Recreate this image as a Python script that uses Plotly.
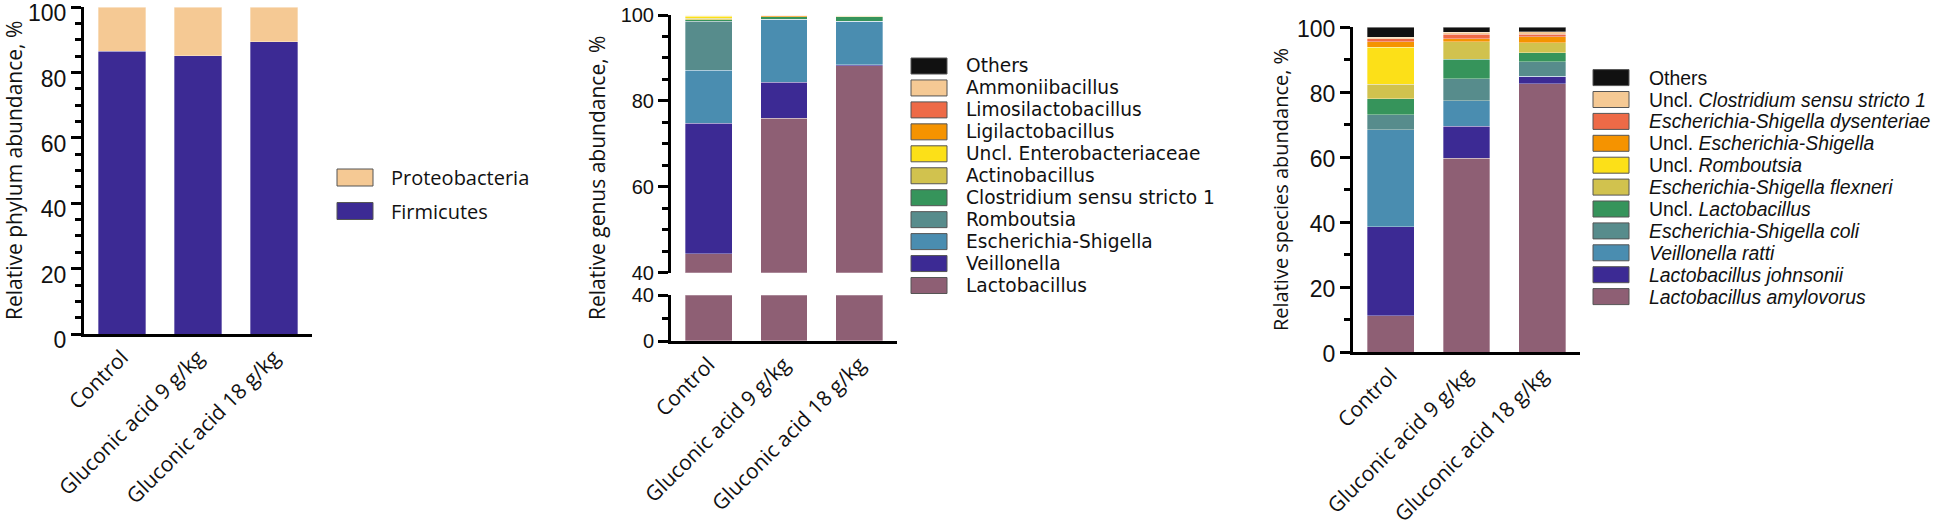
import plotly.graph_objects as go

# ---------------- data ----------------
groups = ["Control", "Gluconic acid 9 g/kg", "Gluconic acid 18 g/kg"]

# Phylum (stack order bottom -> top)
phylum_names = ["Firmicutes", "Proteobacteria"]
firmicutes = [86.6, 85.1, 89.5]
proteobacteria = [13.4, 14.9, 10.5]

# Genus (stack order bottom -> top)
genus_names = ["Lactobacillus", "Veillonella", "Escherichia-Shigella", "Romboutsia",
               "Clostridium sensu stricto 1", "Actinobacillus", "Uncl. Enterobacteriaceae",
               "Ligilactobacillus", "Limosilactobacillus", "Ammoniibacillus", "Others"]
g_lactobacillus = [44.4, 76.0, 88.2]
g_veillonella = [30.4, 8.3, 0.2]
g_escherichia_shigella = [12.3, 14.7, 10.1]
g_romboutsia = [11.5, 0.0, 0.0]
g_clostridium = [0.3, 0.6, 1.1]
g_actinobacillus = [0.3, 0.0, 0.1]
g_uncl_enterobacteriaceae = [0.5, 0.0, 0.2]
g_ligilactobacillus = [0.2, 0.2, 0.0]
g_limosilactobacillus = [0.05, 0.1, 0.0]
g_ammoniibacillus = [0.05, 0.1, 0.1]
g_others = [0.0, 0.0, 0.0]

# Species (stack order bottom -> top)
species_names = ["<i>Lactobacillus amylovorus</i>", "<i>Lactobacillus johnsonii</i>",
                 "<i>Veillonella ratti</i>", "<i>Escherichia-Shigella coli</i>",
                 "Uncl. <i>Lactobacillus</i>", "<i>Escherichia-Shigella flexneri</i>",
                 "Uncl. <i>Romboutsia</i>", "Uncl. <i>Escherichia-Shigella</i>",
                 "<i>Escherichia-Shigella dysenteriae</i>", "Uncl. <i>Clostridium sensu stricto 1</i>",
                 "Others"]
s_amylovorus = [11.1, 59.6, 82.6]
s_johnsonii = [27.5, 9.9, 2.2]
s_ratti = [29.9, 7.9, 0.2]
s_coli = [4.6, 6.8, 4.4]
s_uncl_lactobacillus = [4.9, 5.9, 2.8]
s_flexneri = [4.4, 5.5, 3.1]
s_uncl_romboutsia = [11.4, 0.0, 0.0]
s_uncl_escherichia = [1.7, 0.8, 1.8]
s_dysenteriae = [0.9, 1.4, 0.7]
s_uncl_clostridium = [0.5, 0.7, 0.8]
s_others = [3.1, 1.5, 1.4]

# ---------------- styles ----------------
C_MAUVE = "#8E5F74"
C_PURPLE = "#3C2A94"
C_BLUE = "#4A8DB0"
C_TEAL = "#578C8C"
C_GREEN = "#36945B"
C_OLIVE = "#D1C24E"
C_YELLOW = "#FCE018"
C_ORANGE = "#F59300"
C_RED = "#EE6A47"
C_PEACH = "#F5C994"
C_BLACK = "#111111"

phylum_vals = [firmicutes, proteobacteria]
phylum_cols = [C_PURPLE, C_PEACH]
genus_vals = [g_lactobacillus, g_veillonella, g_escherichia_shigella, g_romboutsia, g_clostridium,
              g_actinobacillus, g_uncl_enterobacteriaceae, g_ligilactobacillus,
              g_limosilactobacillus, g_ammoniibacillus, g_others]
genus_cols = [C_MAUVE, C_PURPLE, C_BLUE, C_TEAL, C_GREEN, C_OLIVE, C_YELLOW, C_ORANGE, C_RED, C_PEACH, C_BLACK]
species_vals = [s_amylovorus, s_johnsonii, s_ratti, s_coli, s_uncl_lactobacillus, s_flexneri,
                s_uncl_romboutsia, s_uncl_escherichia, s_dysenteriae, s_uncl_clostridium, s_others]
species_cols = genus_cols

W, H = 1960, 526
FONT = "Open Sans"
FONT_TIGHT = "Liberation Sans"
FONT_WIDE = "DejaVu Sans"
TXT = "#111111"


def fx(x):
    return x / W


def fy(y):
    return 1 - y / H


fig = go.Figure()
edge = dict(width=0.6, color="rgba(255,255,255,0.55)")


def add_bars(names, vals, cols, xa, ya):
    for n, v, c in zip(names, vals, cols):
        fig.add_trace(go.Bar(x=groups, y=v, name=n, marker=dict(color=c, line=edge),
                             xaxis=xa, yaxis=ya, showlegend=False))


add_bars(phylum_names, phylum_vals, phylum_cols, "x", "y")
add_bars(genus_names, genus_vals, genus_cols, "x2", "y2")
add_bars(genus_names, genus_vals, genus_cols, "x2", "y3")
add_bars(species_names, species_vals, species_cols, "x3", "y4")

axis_common = dict(showline=True, linewidth=3, linecolor="black", showgrid=False, zeroline=False,
                   automargin=False, ticklabeloverflow="allow")
xcommon = dict(axis_common, ticks="", tickangle=-45, type="category", range=[-0.5, 2.5],
               tickfont=dict(family=FONT, size=21, color=TXT))


def ycommon(font, size, rng, dtick, minor, tick0=0, shift=0):
    return dict(axis_common, range=rng, tick0=tick0, dtick=dtick, ticks="outside", ticklen=10,
                tickwidth=3, tickcolor="black", ticklabelshift=shift,
                minor=dict(dtick=minor, tick0=tick0, ticks="outside", ticklen=6, tickwidth=2.5,
                           tickcolor="black", showgrid=False),
                tickfont=dict(family=font, size=size, color=TXT))


fig.update_layout(
    width=W, height=H, margin=dict(l=0, r=0, t=0, b=0, pad=0, autoexpand=False),
    autosize=False,
    paper_bgcolor="white", plot_bgcolor="white",
    barmode="stack", bargap=0.38,
    font=dict(family=FONT, color=TXT),
    xaxis=dict(xcommon, domain=[fx(84), fx(312)], anchor="y"),
    yaxis=dict(ycommon(FONT_TIGHT, 23, [0, 100], 20, 5, shift=6), domain=[fy(334), fy(7.3)],
               anchor="x"),
    xaxis2=dict(xcommon, domain=[fx(671), fx(897)], anchor="y3"),
    yaxis2=dict(ycommon(FONT_TIGHT, 20, [40, 100], 20, 5, tick0=40), domain=[fy(272.7), fy(15)],
                anchor="x2"),
    yaxis3=dict(ycommon(FONT_TIGHT, 20, [0, 40], 40, 20), domain=[fy(341), fy(295.3)], anchor="x2"),
    xaxis3=dict(xcommon, domain=[fx(1353), fx(1580)], anchor="y4"),
    yaxis4=dict(ycommon(FONT_TIGHT, 23, [0, 100], 20, 10, shift=2), domain=[fy(352), fy(27.3)],
                anchor="x3"),
)

# axis titles
titles = [("Relative phylum abundance, %", 14, 171, 21),
          ("Relative genus abundance, %", 597, 178, 21),
          ("Relative species abundance, %", 1280, 190, 20)]
for t, x, y, s in titles:
    fig.add_annotation(text=t, x=fx(x), y=fy(y), xref="paper", yref="paper", textangle=-90,
                       showarrow=False, xanchor="center", yanchor="middle",
                       font=dict(family=FONT, size=s, color=TXT))


# custom legends (top entry = last in stack)
def add_legend(names, cols, sw_x0, sw_x1, text_x, top_cy, pitch, sw_h, font, size):
    items = list(zip(names, cols))[::-1]
    for i, (n, c) in enumerate(items):
        cy = top_cy + i * pitch
        fig.add_shape(type="rect", xref="paper", yref="paper",
                      x0=fx(sw_x0), x1=fx(sw_x1), y0=fy(cy + sw_h / 2), y1=fy(cy - sw_h / 2),
                      fillcolor=c, line=dict(color="#555555", width=1))
        fig.add_annotation(text=n, x=fx(text_x), y=fy(cy), xref="paper", yref="paper",
                           showarrow=False, xanchor="left", yanchor="middle", borderpad=0,
                           font=dict(family=font, size=size, color=TXT))


add_legend(phylum_names, phylum_cols, 337, 373, 390, 177.5, 33.5, 17, FONT, 20)
add_legend(genus_names, genus_cols, 911, 947, 965, 66, 21.95, 16, FONT_WIDE, 18.6)
add_legend(species_names, species_cols, 1593, 1629, 1648, 77.6, 21.9, 16, FONT_TIGHT, 19.4)

fig.write_html("out.html", config={"displayModeBar": False},
               post_script="document.body.style.margin='0';document.body.style.overflow='hidden';")
